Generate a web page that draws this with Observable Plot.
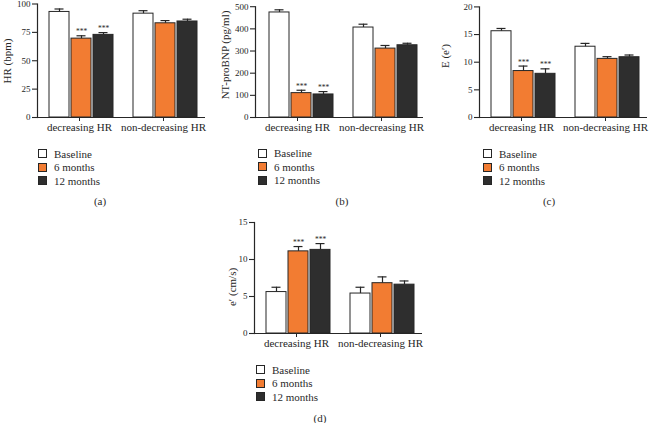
<!DOCTYPE html>
<html><head><meta charset="utf-8">
<script src="https://cdn.jsdelivr.net/npm/d3@7"></script>
<script src="https://cdn.jsdelivr.net/npm/@observablehq/plot@0.6"></script>
<style>
html,body{margin:0;padding:0;background:#fff;overflow:hidden}
#root{position:relative;width:650px;height:423px;font-family:"Liberation Serif","Times New Roman",serif;color:#2a2a2a}
.panel{position:absolute}
.legrow{position:absolute;white-space:nowrap;display:flex;align-items:center;font-size:11px;line-height:12px;height:12px;transform:translateY(-50%)}
.sw{width:7px;height:7px;border:1px solid #262626;margin-right:7px}
.cap{position:absolute;font-size:11px;transform:translate(-50%,-50%);white-space:nowrap}
.ylab{position:absolute;font-size:11px;white-space:nowrap;transform:translate(-50%,-50%) rotate(-90deg);color:#262626}
</style></head><body><div id="root"></div><script>
// ---- data ----
const groups = ["decreasing HR", "non-decreasing HR"];
const series = ["Baseline", "6 months", "12 months"];
const seriesColors = ["#ffffff", "#f27c32", "#2e2e2e"];
const sig = [["", "***", "***"], ["", "", ""]];

const hrMean = [[93, 69.5, 72.8], [91.5, 83, 84.6]];
const hrErr = [[2.6, 2.5, 2.0], [2.6, 2.4, 2.0]];
const hrTicks = [0, 25, 50, 75, 100];

const bnpMean = [[474, 110, 104], [406, 311, 326]];
const bnpErr = [[12, 13, 13], [15, 14, 9]];
const bnpTicks = [0, 100, 200, 300, 400, 500];

const eeMean = [[15.6, 8.4, 7.9], [12.8, 10.6, 10.9]];
const eeErr = [[0.5, 0.9, 0.9], [0.6, 0.4, 0.4]];
const eeTicks = [0, 5, 10, 15, 20];

const ePrimeMean = [[5.6, 11.1, 11.3], [5.4, 6.8, 6.6]];
const ePrimeErr = [[0.65, 0.65, 0.85], [0.85, 0.85, 0.5]];
const ePrimeTicks = [0, 5, 10, 15];

const yLabels = ["HR (bpm)", "NT-proBNP (pg/ml)", "E (e\u2032)", "e\u2032 (cm/s)"];
const panelLabels = ["(a)", "(b)", "(c)", "(d)"];

// ---- layout ----
const layouts = [
  {axisX: 37, plotTop: 3.5, plotBottom: 117, barOffset: 11, labX: 7, labY: 61, legDx: 1, capX: 100, capY: 201},
  {axisX: 255, plotTop: 5.9, plotBottom: 116.7, barOffset: 13, labX: 225, labY: 55, legDx: 3, capX: 342, capY: 201},
  {axisX: 479, plotTop: 6.7, plotBottom: 117.3, barOffset: 11, labX: 445, labY: 56, legDx: 4, capX: 549, capY: 201},
  {axisX: 254, plotTop: 222, plotBottom: 333, barOffset: 11.5, labX: 232, labY: 287, legDx: 2, capX: 320, capY: 418}
];

const root = document.getElementById("root");
const ink = "#262626";

function makePanel(mean, err, ticks, ylabel, caption, L) {
  const rows = [];
  groups.forEach((g, gi) => series.forEach((s, si) => rows.push({
    group: g, series: s, value: mean[gi][si], top: mean[gi][si] + err[gi][si], sig: sig[gi][si]
  })));
  const marginLeft = 37, facetW = 84, marginBottom = 20;
  const left = L.axisX - marginLeft;
  const svgTop = L.plotBottom - 117;
  const width = Math.min(215, 650 - left);
  const marginRight = width - marginLeft - 2 * facetW;
  const marginTop = L.plotTop - svgTop;
  const height = L.plotBottom - svgTop + marginBottom;
  const chart = Plot.plot({
    width, height, marginLeft, marginRight, marginTop, marginBottom,
    style: {fontFamily: '"Liberation Serif", "Times New Roman", serif', fontSize: "9px", background: "transparent", overflow: "visible", color: ink},
    fx: {domain: groups, padding: 0},
    x: {domain: series, paddingInner: 0.11, paddingOuter: 0.4217, align: L.barOffset / 19, axis: null},
    y: {domain: [0, ticks[ticks.length - 1]], axis: null},
    color: {domain: series, range: seriesColors},
    marks: [
      Plot.barY(rows, {fx: "group", x: "series", y: "value", fill: "series", stroke: ink, strokeWidth: 1}),
      Plot.ruleX(rows, {fx: "group", x: "series", y1: "value", y2: "top", stroke: ink, strokeWidth: 1.2}),
      Plot.tickY(rows, {fx: "group", x: "series", y: "top", stroke: ink, strokeWidth: 1.2, insetLeft: 5.5, insetRight: 5.5}),
      Plot.text(rows, {fx: "group", x: "series", y: "top", text: "sig", dy: -1.5, lineAnchor: "bottom", fontSize: 7.5, fill: ink}),
      Plot.ruleY([0], {stroke: ink, strokeWidth: 1.2}),
      Plot.frame({anchor: "left", facetAnchor: "left", stroke: ink, strokeWidth: 1.2}),
      Plot.axisY({ticks, tickSize: 5, tickPadding: 2, fontSize: 9, label: null, stroke: ink, strokeWidth: 1.1}),
      Plot.axisFx({anchor: "bottom", tickSize: 4, tickPadding: 2, fontSize: 11, label: null, stroke: ink})
    ]
  });
  chart.classList.add("panel");
  chart.style.left = left + "px";
  chart.style.top = svgTop + "px";
  root.appendChild(chart);

  // y-axis title
  const yl = document.createElement("div");
  yl.className = "ylab";
  yl.style.left = L.labX + "px";
  yl.style.top = L.labY + "px";
  yl.textContent = ylabel;
  root.appendChild(yl);

  // legend (below the chart)
  series.forEach((s, i) => {
    const row = document.createElement("div");
    row.className = "legrow";
    row.style.left = (L.axisX + L.legDx) + "px";
    row.style.top = (L.plotBottom + 36.5 + i * 13.5) + "px";
    const sw = document.createElement("span");
    sw.className = "sw";
    sw.style.background = seriesColors[i];
    row.appendChild(sw);
    row.appendChild(document.createTextNode(s));
    root.appendChild(row);
  });
  const cap = document.createElement("div");
  cap.className = "cap";
  cap.style.left = L.capX + "px";
  cap.style.top = L.capY + "px";
  cap.textContent = caption;
  root.appendChild(cap);
}

makePanel(hrMean, hrErr, hrTicks, yLabels[0], panelLabels[0], layouts[0]);
makePanel(bnpMean, bnpErr, bnpTicks, yLabels[1], panelLabels[1], layouts[1]);
makePanel(eeMean, eeErr, eeTicks, yLabels[2], panelLabels[2], layouts[2]);
makePanel(ePrimeMean, ePrimeErr, ePrimeTicks, yLabels[3], panelLabels[3], layouts[3]);
</script></body></html>
